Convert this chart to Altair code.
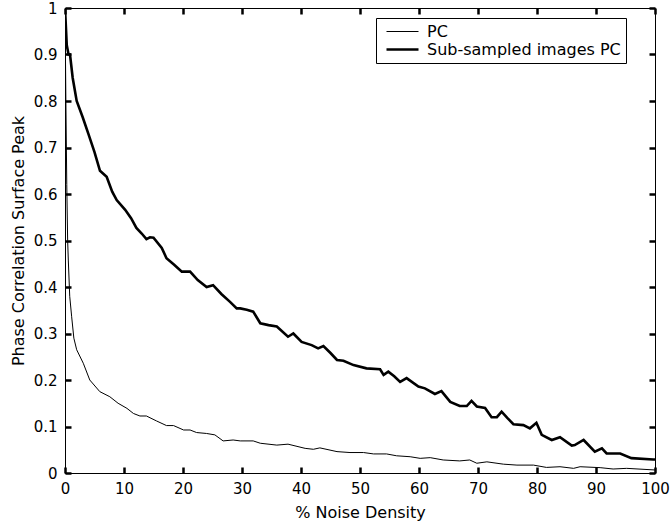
import altair as alt
import pandas as pd

series_names = ["PC", "Sub-sampled images PC"]

pc_x = [0, 0.15, 0.3, 0.45, 0.56, 0.8, 1.13, 1.5, 1.98, 3.1, 4.2, 5.9, 7.6, 9.0, 10.5, 11.6,
        12.7, 13.8, 15.5, 17.2, 18.4, 20.1, 21.2, 22.3, 24.0, 25.4, 26.8, 28.5, 29.7, 31.9,
        33.1, 35.9, 37.8, 40.7, 42.1, 43.2, 46.1, 48.3, 50.6, 52.3, 54.5, 56.2, 58.5, 60.2,
        61.9, 64.1, 66.9, 68.6, 69.8, 71.5, 74.3, 76.6, 79.4, 81.6, 83.9, 86.2, 87.3, 90.7,
        92.9, 95.2, 100]
pc_y = [1.0, 0.80, 0.62, 0.50, 0.458, 0.38, 0.336, 0.29, 0.265, 0.236, 0.20, 0.175, 0.164,
        0.15, 0.139, 0.128, 0.1226, 0.1226, 0.112, 0.102, 0.102, 0.0925, 0.0925, 0.087,
        0.085, 0.082, 0.069, 0.071, 0.069, 0.069, 0.064, 0.060, 0.062, 0.053, 0.051, 0.054,
        0.046, 0.044, 0.044, 0.041, 0.041, 0.037, 0.035, 0.0315, 0.033, 0.028, 0.026, 0.028,
        0.021, 0.024, 0.019, 0.017, 0.017, 0.012, 0.0135, 0.010, 0.0135, 0.0115, 0.0086,
        0.010, 0.0065]

sub_x = [0, 0.15, 0.3, 0.6, 0.85, 1.3, 1.98, 3.0, 3.95, 5.0, 5.93, 7.06, 8.0, 8.76, 10.2,
         11.2, 12.1, 13.0, 13.8, 14.4, 15.0, 16.4, 17.2, 18.5, 19.8, 21.2, 22.5, 24.0, 25.1,
         26.5, 27.97, 29.1, 29.7, 30.8, 31.9, 33.1, 34.5, 35.9, 37.8, 38.7, 40.1, 41.8, 42.9,
         43.8, 45.0, 46.1, 47.2, 48.9, 51.1, 53.4, 54.0, 54.8, 55.8, 56.8, 57.9, 59.9, 61.0,
         62.7, 63.8, 65.3, 66.9, 68.1, 68.9, 69.8, 71.2, 72.3, 73.2, 74.0, 75.0, 76.0, 77.7,
         78.8, 79.9, 80.8, 82.5, 83.9, 85.9, 86.4, 87.9, 89.8, 91.0, 91.8, 94.1, 96.0, 99.7, 100]
sub_y = [1.0, 0.96, 0.92, 0.90, 0.90, 0.85, 0.80, 0.765, 0.73, 0.69, 0.65, 0.637, 0.605,
         0.587, 0.566, 0.548, 0.527, 0.515, 0.503, 0.507, 0.506, 0.484, 0.462, 0.448, 0.433,
         0.433, 0.415, 0.400, 0.404, 0.385, 0.368, 0.354, 0.354, 0.351, 0.347, 0.322, 0.318,
         0.315, 0.293, 0.300, 0.282, 0.275, 0.268, 0.273, 0.258, 0.243, 0.2415, 0.232, 0.225,
         0.223, 0.211, 0.218, 0.208, 0.196, 0.204, 0.186, 0.182, 0.170, 0.176, 0.153, 0.144,
         0.144, 0.155, 0.143, 0.140, 0.120, 0.120, 0.132, 0.118, 0.105, 0.103, 0.096, 0.108,
         0.082, 0.071, 0.077, 0.059, 0.060, 0.071, 0.046, 0.053, 0.042, 0.042, 0.032, 0.029,
         0.029]

x_ticks = [0, 10, 20, 30, 40, 50, 60, 70, 80, 90, 100]
y_ticks = [0, 0.1, 0.2, 0.3, 0.4, 0.5, 0.6, 0.7, 0.8, 0.9, 1]

df = pd.concat([
    pd.DataFrame({"x": pc_x, "y": pc_y, "series": series_names[0]}),
    pd.DataFrame({"x": sub_x, "y": sub_y, "series": series_names[1]}),
], ignore_index=True)

W, H = 590, 465
FONT = "DejaVu Sans"
TICK = 6

x_scale = alt.Scale(domain=[0, 100], nice=False, zero=False)
y_scale = alt.Scale(domain=[0, 1], nice=False, zero=False)

lines = alt.Chart(df).mark_line(color="black", clip=True).encode(
    x=alt.X("x:Q", scale=x_scale,
            axis=alt.Axis(values=x_ticks, format="d", tickSize=0, labelPadding=8,
                          labelFlush=False, grid=False,
                          title="% Noise Density", titleX=W / 2, titleY=39,
                          titleBaseline="middle", titleAlign="center")),
    y=alt.Y("y:Q", scale=y_scale,
            axis=alt.Axis(values=y_ticks, format="~g", tickSize=0, labelPadding=8,
                          labelFlush=False, grid=False,
                          title="Phase Correlation Surface Peak",
                          titleX=-47, titleY=H / 2, titleAngle=270,
                          titleBaseline="middle", titleAlign="center")),
    strokeWidth=alt.StrokeWidth(
        "series:N",
        scale=alt.Scale(domain=series_names, range=[1, 2.6]),
        legend=alt.Legend(orient="none", legendX=311, legendY=10, title=None,
                          symbolType="M-2,0H2", symbolStrokeColor="black", symbolSize=256,
                          labelFont=FONT, labelFontSize=16, labelColor="black",
                          labelLimit=400, labelOffset=15, symbolOffset=12,
                          strokeColor="black", fillColor="white", padding=5,
                          rowPadding=0, cornerRadius=0),
    ),
)

# Invisible layer carrying inward tick marks on all four sides: short dashed grid
# segments at both ends of each grid line.
ticks = alt.Chart(df).mark_point(opacity=0).encode(
    x=alt.X("x:Q", scale=x_scale,
            axis=alt.Axis(orient="top", values=x_ticks, labels=False, domain=False,
                          ticks=False, grid=True, gridColor="#000000", gridWidth=2.5,
                          gridOpacity=1, gridDash=[TICK, H - 2 * TICK, TICK, 2000],
                          title=None)),
    y=alt.Y("y:Q", scale=y_scale,
            axis=alt.Axis(orient="right", values=y_ticks, labels=False, domain=False,
                          ticks=False, grid=True, gridColor="#000000", gridWidth=2.5,
                          gridOpacity=1, gridDash=[TICK, W - 2 * TICK, TICK, 2000],
                          title=None)),
)

chart = alt.layer(lines, ticks).resolve_axis(x="independent", y="independent").properties(
    width=W, height=H,
    autosize=alt.AutoSizeParams(type="none"),
    padding={"left": 65, "top": 8, "right": 16, "bottom": 54},
    background="white",
).configure_view(stroke="black", strokeWidth=1).configure_axis(
    labelFont=FONT, labelFontSize=15, labelColor="black",
    titleFont=FONT, titleFontSize=16, titleColor="black", titleFontWeight="normal",
    domainColor="black", domainWidth=1,
)

chart.save("out.html", embed_options={"renderer": "svg", "actions": False})
